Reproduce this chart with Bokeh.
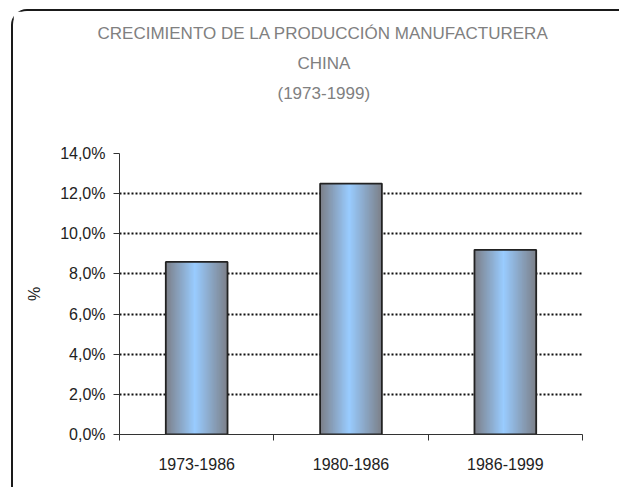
import numpy as np
from bokeh.plotting import figure
from bokeh.models import Range1d, FixedTicker, Title
from bokeh.embed import file_html
from bokeh.resources import INLINE

# ---- data ----
categories = ["1973-1986", "1980-1986", "1986-1999"]
values = [8.6, 12.5, 9.2]
y_ticks = [0, 2, 4, 6, 8, 10, 12, 14]
y_tick_labels = ["0,0%", "2,0%", "4,0%", "6,0%", "8,0%", "10,0%", "12,0%", "14,0%"]
title_lines = ["CRECIMIENTO DE LA PRODUCCIÓN MANUFACTURERA", "CHINA", "(1973-1999)"]
y_label = "%"

FONT = "Liberation Sans"
BAR_W = 0.40
N = 48
edge = np.array([124, 127, 136], dtype=float)
mid = np.array([153, 204, 255], dtype=float)
peak = 0.47

p = figure(width=608, height=478, output_backend="svg", toolbar_location=None,
           x_range=Range1d(0, len(categories)), y_range=Range1d(0, 14),
           min_border_left=106, min_border_right=39, min_border_top=142, min_border_bottom=55)
p.outline_line_color = None
p.background_fill_color = "white"
p.border_fill_color = "white"
p.styles = {"margin-left": "11px", "margin-top": "9px",
            "border-left": "2px solid #1a1a1a", "border-top": "2px solid #1a1a1a",
            "border-top-left-radius": "16px"}

# gradient bars built from the values
lefts, rights, tops, cols = [], [], [], []
step = BAR_W / N
for i, v in enumerate(values):
    c = i + 0.5
    for k in range(N):
        t = (k + 0.5) / N
        d = abs(t - peak) / (peak if t < peak else 1 - peak)
        f = 1 - d
        col = edge + (mid - edge) * f
        l = c - BAR_W / 2 + k * step
        r = min(l + step * 1.8, c + BAR_W / 2)
        lefts.append(l); rights.append(r); tops.append(v)
        cols.append("#%02x%02x%02x" % tuple(int(round(x)) for x in col))
p.quad(left=lefts, right=rights, top=tops, bottom=0, fill_color=cols, line_color=None)
p.vbar(x=[i + 0.5 for i in range(len(values))], top=values, width=BAR_W, bottom=0,
       fill_color=None, line_color="#222222", line_width=1.8)

# axes
yax = p.yaxis[0]
yax.ticker = FixedTicker(ticks=y_ticks)
yax.major_label_overrides = {t: lab for t, lab in zip(y_ticks, y_tick_labels)}
yax.major_tick_out = 6
yax.major_tick_in = 0
yax.minor_tick_out = 0
yax.minor_tick_in = 0
yax.axis_line_color = "#333333"
yax.major_tick_line_color = "#333333"
yax.major_label_standoff = 8
yax.major_label_text_font = FONT
yax.major_label_text_font_size = "16px"
yax.major_label_text_color = "#222222"
yax.axis_label = y_label
yax.axis_label_text_font = FONT
yax.axis_label_text_font_size = "16px"
yax.axis_label_text_font_style = "normal"
yax.axis_label_text_color = "#222222"
yax.axis_label_standoff = 14

xax = p.xaxis[0]
xcenters = [i + 0.5 for i in range(len(categories))]
xax.ticker = FixedTicker(ticks=xcenters, minor_ticks=list(range(len(categories) + 1)))
xax.major_label_overrides = {x: c for x, c in zip(xcenters, categories)}
xax.major_tick_out = 6
xax.major_tick_in = 0
xax.major_tick_line_color = None
xax.minor_tick_out = 6
xax.minor_tick_in = 0
xax.minor_tick_line_color = "#333333"
xax.axis_line_color = "#333333"
xax.major_label_standoff = 17
xax.major_label_text_font = FONT
xax.major_label_text_font_size = "16px"
xax.major_label_text_color = "#222222"

p.xgrid.grid_line_color = None
p.ygrid.ticker = FixedTicker(ticks=y_ticks)
p.ygrid.grid_line_color = "#111111"
p.ygrid.grid_line_width = 2
p.ygrid.grid_line_dash = "2 2"

# title: spacer nearest the frame, then lines nearest-first
p.add_layout(Title(text=" ", standoff=42, text_font_size="2px"), "above")
title_offsets = [-22, 178, 158]
for line, off in reversed(list(zip(title_lines, title_offsets))):
    p.add_layout(Title(text=line, align="left", offset=off, standoff=9,
                       text_font=FONT, text_font_size="17px", text_font_style="normal",
                       text_color="#808080"), "above")

open("out.html", "w").write(file_html(p, INLINE))
